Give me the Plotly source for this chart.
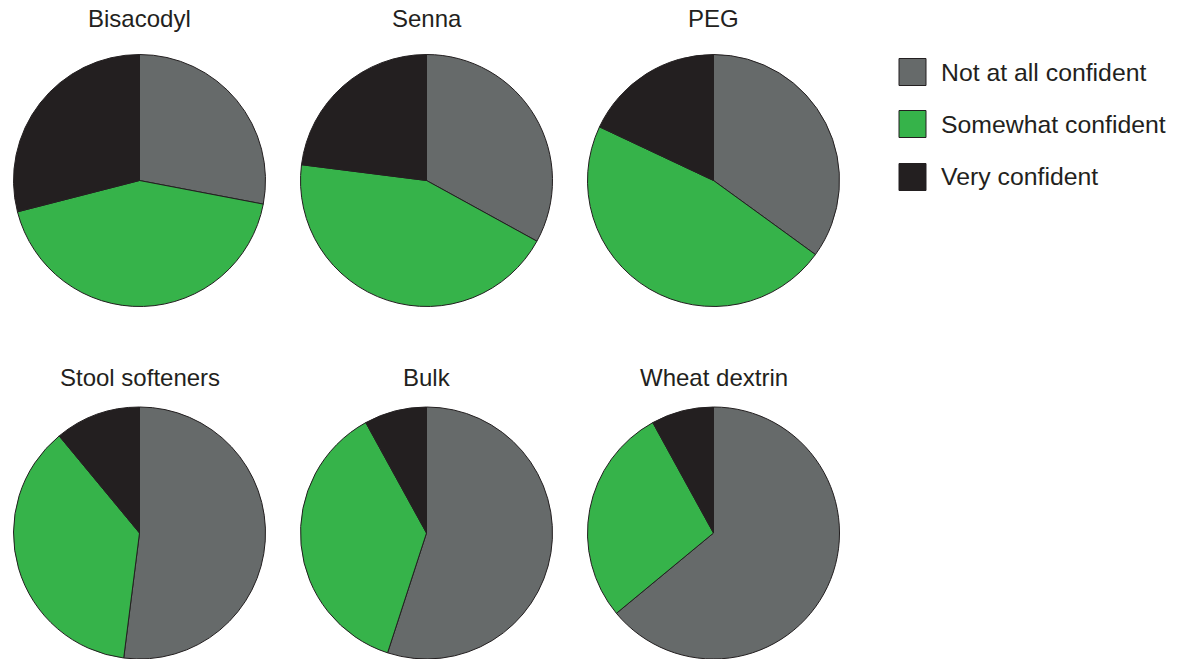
import plotly.graph_objects as go

# Survey: confidence in recommending each laxative class (% of respondents)
drugs = ["Bisacodyl", "Senna", "PEG", "Stool softeners", "Bulk", "Wheat dextrin"]
levels = ["Not at all confident", "Somewhat confident", "Very confident"]
not_at_all = [28, 33, 35, 52, 55, 64]
somewhat = [43, 44, 47, 37, 37, 28]
very = [29, 23, 18, 11, 8, 8]

colors = ["#666a6a", "#36b34a", "#231f20"]
edge = "#231f20"

W, H = 1183, 659
R = 126
col_cx = [139.5, 426.5, 713.5]
row_cy = [180.5, 533]

fig = go.Figure()
annotations = []
shapes = []

for i, name in enumerate(drugs):
    row, col = divmod(i, 3)
    cx, cy = col_cx[col], row_cy[row]
    x0, x1 = (cx - R) / W, (cx + R) / W
    y0 = max(0.0, (H - cy - R) / H)
    y1 = min(1.0, (H - cy + R) / H)
    fig.add_trace(go.Pie(
        labels=levels,
        values=[not_at_all[i], somewhat[i], very[i]],
        sort=False,
        direction="clockwise",
        rotation=0,
        textinfo="none",
        marker=dict(colors=colors, line=dict(color=edge, width=1)),
        domain=dict(x=[x0, x1], y=[y0, y1]),
        showlegend=False,
        name=name,
    ))
    title_y = 19 if row == 0 else 377
    annotations.append(dict(
        text=name, x=cx / W, y=1 - title_y / H, xref="paper", yref="paper",
        xanchor="center", yanchor="middle", showarrow=False,
        font=dict(size=24, color="#231f20"),
    ))

# Legend drawn as swatches plus labels
leg_rows = [72, 124, 177]
sw = 27
for lvl, c, ly in zip(levels, colors, leg_rows):
    shapes.append(dict(
        type="rect", xref="paper", yref="paper",
        x0=899 / W, x1=(899 + sw) / W,
        y0=1 - (ly + sw / 2) / H, y1=1 - (ly - sw / 2) / H,
        fillcolor=c, line=dict(color=edge, width=1),
    ))
    annotations.append(dict(
        text=lvl, x=939 / W, y=1 - ly / H, xref="paper", yref="paper",
        xanchor="left", yanchor="middle", showarrow=False,
        font=dict(size=24.8, color="#231f20"),
    ))

fig.update_layout(
    width=W, height=H,
    margin=dict(l=0, r=0, t=0, b=0),
    paper_bgcolor="white", plot_bgcolor="white",
    font=dict(family="Liberation Sans, Arial, sans-serif", color="#231f20"),
    annotations=annotations,
    shapes=shapes,
)

fig.write_html("out.html")
